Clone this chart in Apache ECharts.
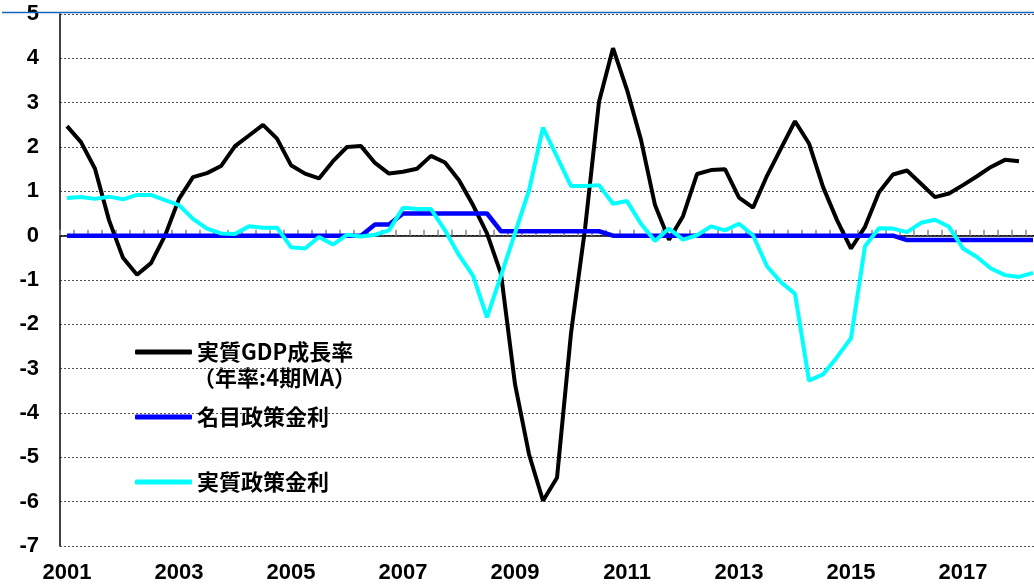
<!DOCTYPE html>
<html>
<head>
<meta charset="utf-8">
<script src="https://cdn.jsdelivr.net/npm/echarts@6/dist/echarts.min.js"></script>
<style>
html,body{margin:0;padding:0;background:#fff;overflow:hidden;}
#c{width:1040px;height:585px;}
</style>
</head>
<body>
<div id="c"></div>
<script>
// quarterly categories 2001Q1 .. 2018Q2
const startYear = 2001;
const nQuarters = 70;
const categories = [];
for (let i = 0; i < nQuarters; i++) {
  categories.push((startYear + Math.floor(i / 4)) + 'Q' + (i % 4 + 1));
}
const seriesNames = ['実質GDP成長率', '名目政策金利', '実質政策金利'];
const legendSubLine = '（年率:4期MA）';

const gdpGrowth = [
  2.47, 2.11, 1.51, 0.35, -0.50, -0.88, -0.62, 0.00,
  0.83, 1.32, 1.41, 1.57, 2.02, 2.26, 2.50, 2.19,
  1.59, 1.40, 1.29, 1.68, 2.00, 2.02, 1.64, 1.40,
  1.44, 1.51, 1.80, 1.65, 1.25, 0.69, 0.05, -0.86,
  -3.35, -4.93, -5.98, -5.46, -2.20, 0.15, 3.02, 4.23,
  3.29, 2.16, 0.69, -0.09, 0.44, 1.39, 1.48, 1.50,
  0.86, 0.63, 1.35, 1.97, 2.58, 2.08, 1.10, 0.35,
  -0.29, 0.20, 0.98, 1.38, 1.47, 1.17, 0.87, 0.95,
  1.14, 1.34, 1.55, 1.71, 1.68
];
const nominalRate = [
  0, 0, 0, 0, 0, 0, 0, 0,
  0, 0, 0, 0, 0, 0, 0, 0,
  0, 0, 0, 0, 0, 0, 0.25, 0.25,
  0.5, 0.5, 0.5, 0.5, 0.5, 0.5, 0.5, 0.1,
  0.1, 0.1, 0.1, 0.1, 0.1, 0.1, 0.1, 0,
  0, 0, 0, 0, 0, 0, 0, 0,
  0, 0, 0, 0, 0, 0, 0, 0,
  0, 0, 0, 0, -0.1, -0.1, -0.1, -0.1,
  -0.1, -0.1, -0.1, -0.1, -0.1, -0.1
];
const realRate = [
  0.85, 0.87, 0.83, 0.88, 0.82, 0.92, 0.92, 0.80,
  0.69, 0.38, 0.16, 0.05, 0.04, 0.21, 0.18, 0.18,
  -0.26, -0.29, -0.03, -0.20, 0.02, -0.02, 0.02, 0.12,
  0.63, 0.60, 0.60, 0.12, -0.44, -0.90, -1.84, -0.90,
  0.06, 1.02, 2.44, 1.78, 1.12, 1.12, 1.14, 0.72,
  0.78, 0.27, -0.12, 0.16, -0.09, 0.01, 0.21, 0.12,
  0.27, 0.01, -0.69, -1.05, -1.31, -3.27, -3.13, -2.74,
  -2.31, -0.24, 0.17, 0.16, 0.08, 0.29, 0.36, 0.20,
  -0.29, -0.48, -0.74, -0.89, -0.93, -0.84
];
const yMin = -7, yMax = 5, yStep = 1;

const labelFont = {fontFamily: 'Liberation Sans, Arial, sans-serif', fontWeight: 'bold', fontSize: 22, color: '#000'};
const cjkFont = 'Noto Sans CJK JP, sans-serif';

const chart = echarts.init(document.getElementById('c'), null, {renderer: 'canvas'});
chart.setOption({
  animation: false,
  backgroundColor: '#fff',
  grid: {left: 60, right: 0, top: 14, bottom: 39, containLabel: false},
  legend: {
    orient: 'vertical',
    left: 130,
    top: 335,
    itemWidth: 57,
    itemHeight: 5,
    itemGap: 41,
    icon: 'roundRect',
    textStyle: {fontFamily: cjkFont, fontWeight: 'bold', fontSize: 22, color: '#000', lineHeight: 24},
    data: seriesNames
  },
  graphic: [
    {type: 'line', shape: {x1: 2, y1: 12.5, x2: 1040, y2: 12.5}, style: {stroke: '#1565c0', lineWidth: 1.5}, z: 100},
    {type: 'text', left: 193, top: 367, style: {text: legendSubLine, fontFamily: cjkFont, fontWeight: 'bold', fontSize: 22, fill: '#000'}}
  ],
  xAxis: [
    {
      type: 'category', data: categories, boundaryGap: true,
      axisLine: {onZero: true, lineStyle: {color: '#000', width: 1.5}},
      axisTick: {show: true, inside: true, length: 6, interval: 0, lineStyle: {color: '#888', width: 1.5}},
      axisLabel: {show: false},
      splitLine: {show: false}
    },
    {
      type: 'category', data: categories, boundaryGap: true, position: 'bottom',
      axisLine: {show: false, onZero: false},
      axisTick: {show: false},
      axisLabel: Object.assign({show: true, interval: 7, margin: 16, formatter: v => v.slice(0, 4)}, labelFont),
      splitLine: {show: false}
    }
  ],
  yAxis: {
    type: 'value', min: yMin, max: yMax, interval: yStep,
    axisLine: {show: true, lineStyle: {color: '#000', width: 1.5}},
    axisTick: {show: false},
    axisLabel: Object.assign({margin: 21}, labelFont),
    splitLine: {show: true, lineStyle: {color: '#555', width: 1, type: [2, 2]}}
  },
  series: [
    {name: seriesNames[0], type: 'line', data: gdpGrowth, xAxisIndex: 0, symbol: 'none', color: '#000000',
     lineStyle: {width: 4, color: '#000000'}},
    {name: seriesNames[1], type: 'line', data: nominalRate, xAxisIndex: 0, symbol: 'none', color: '#0000ff',
     lineStyle: {width: 4.5, color: '#0000ff'}},
    {name: seriesNames[2], type: 'line', data: realRate, xAxisIndex: 0, symbol: 'none', color: '#00ffff',
     lineStyle: {width: 4, color: '#00ffff'}}
  ]
});
</script>
</body>
</html>
